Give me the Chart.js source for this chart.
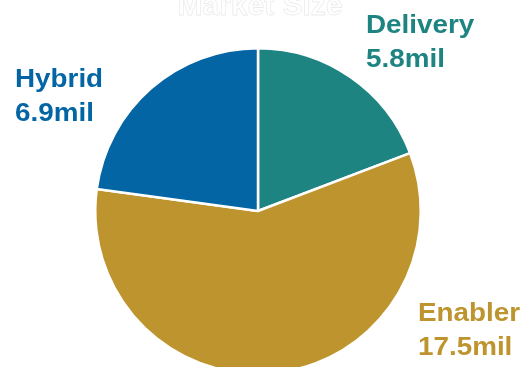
<!DOCTYPE html>
<html lang="en">
<head>
  <meta charset="UTF-8">
  <title>Market Size</title>
  <script src="https://cdn.jsdelivr.net/npm/chart.js"></script>
  <style>
    html, body { margin: 0; padding: 0; background: #fff; overflow: hidden; }
    .chart-container { position: relative; width: 526px; height: 378px; }
  </style>
</head>
<body>
  <div class="chart-container"><canvas id="marketChart"></canvas></div>

  <script>
    const segments = ['Delivery', 'Enabler', 'Hybrid'];
    const sizes = [5.8, 17.5, 6.9];
    const colors = ['#1d8482', '#bd942e', '#0365a4'];

    // baseline of the first line of each two-line label
    const labelSpots = [
      { x: 366, y: 33 },
      { x: 418, y: 321 },
      { x: 15, y: 87 }
    ];

    const labelPlugin = {
      id: 'sliceLabels',
      afterDraw(chart) {
        const ctx = chart.ctx;
        ctx.save();
        ctx.textBaseline = 'alphabetic';

        // washed-out title at the very top
        ctx.font = 'bold 30px "Liberation Sans", Arial, sans-serif';
        ctx.textAlign = 'center';
        ctx.fillStyle = '#ffffff';
        ctx.strokeStyle = '#ececec';
        ctx.lineWidth = 0.8;
        ctx.fillText('Market Size', 260, 15);
        ctx.strokeText('Market Size', 260, 15);

        // labels in the original are a little wider than plain Arial bold
        const sx = 1.07;
        ctx.textAlign = 'left';
        ctx.font = 'bold 26px "Liberation Sans", Arial, sans-serif';
        ctx.scale(sx, 1);
        segments.forEach((name, i) => {
          const p = labelSpots[i];
          ctx.fillStyle = colors[i];
          ctx.fillText(name, p.x / sx, p.y);
          ctx.fillText(sizes[i] + 'mil', p.x / sx, p.y + 34);
        });
        ctx.restore();
      }
    };

    new Chart(document.getElementById('marketChart').getContext('2d'), {
      type: 'pie',
      data: {
        labels: segments,
        datasets: [{
          data: sizes,
          backgroundColor: colors,
          borderColor: '#ffffff',
          borderWidth: 2.5,
          hoverOffset: 0
        }]
      },
      options: {
        responsive: true,
        maintainAspectRatio: false,
        animation: false,
        layout: { padding: { top: 47, bottom: 3, left: 94, right: 104 } },
        plugins: {
          legend: { display: false },
          tooltip: { enabled: false }
        }
      },
      plugins: [labelPlugin]
    });
  </script>
</body>
</html>
